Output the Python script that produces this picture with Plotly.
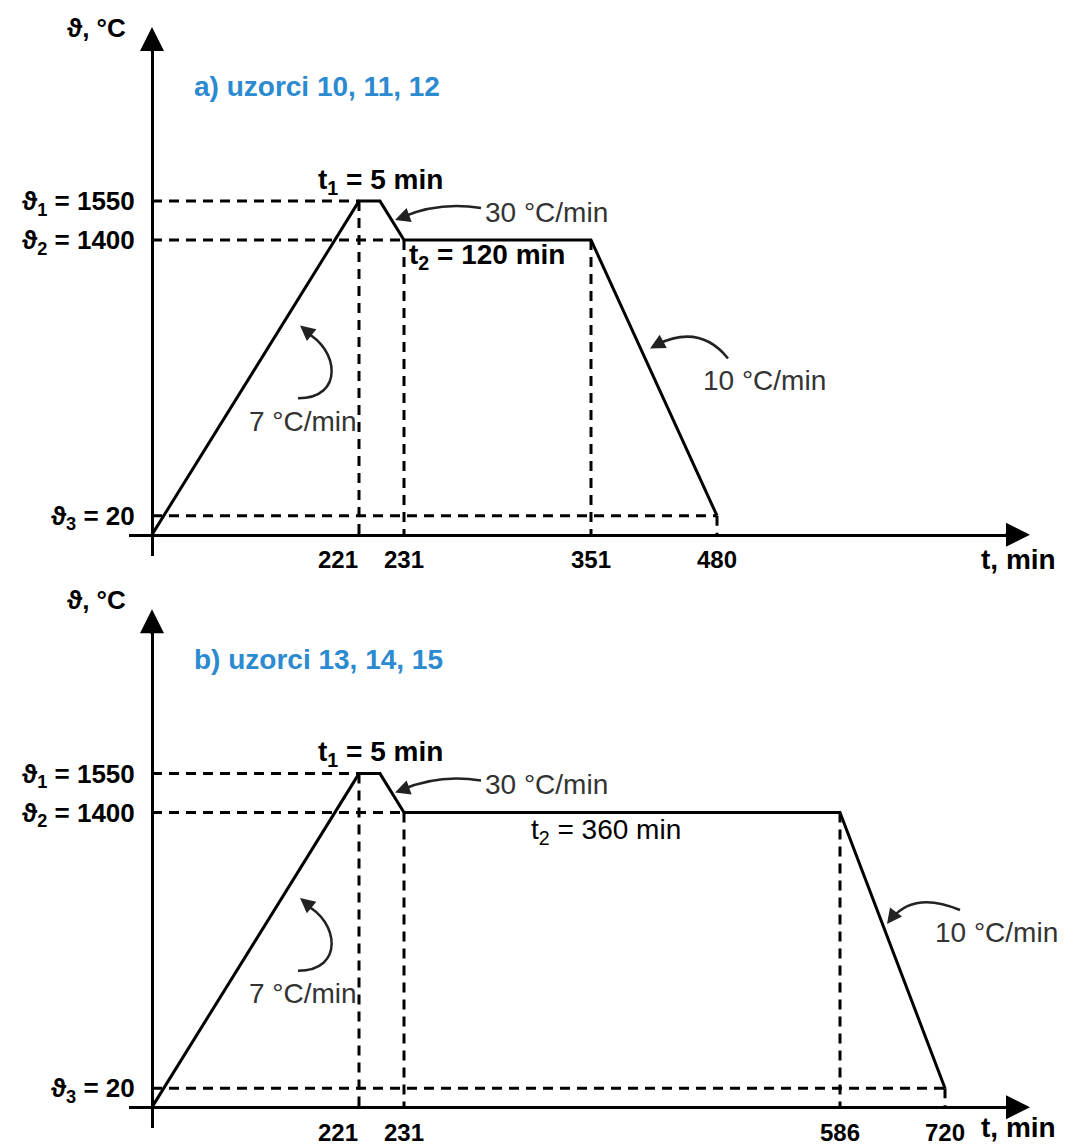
import numpy as np
import plotly.graph_objects as go

# heat treatment schedules (time in min, temperature in °C)
time_a = [0, 221, 226, 231, 351, 480]
time_b = [0, 221, 226, 231, 586, 720]
temp = [0, 1550, 1550, 1400, 1400, 20]

xticks_a = [221, 231, 351, 480]
xticks_b = [221, 231, 586, 720]
yticks = [20, 1400, 1550]
ylabels = ["ϑ<sub>3</sub> = 20", "ϑ<sub>2</sub> = 1400", "ϑ<sub>1</sub> = 1550"]

titles = ["a) uzorci 10, 11, 12", "b) uzorci 13, 14, 15"]
hold_labels = ["<b>t<sub>2</sub> = 120 min</b>", "t<sub>2</sub> = 360 min"]

W, H = 1088, 1146
FONT = "Liberation Sans, Arial, sans-serif"
BLUE = "#2b8ad0"

# the drawing is schematic (not to scale): value -> pixels from origin
XW_A = ([0, 221, 226, 231, 351, 480], [0, 207, 228, 252, 439, 565])
XW_B = ([0, 221, 226, 231, 586, 720], [0, 207, 228, 252, 688, 793])
YW = ([0, 20, 1400, 1550], [0, 19, 296, 335])


def wx(v, xw):
    return np.interp(v, *xw)


def wy(v):
    return np.interp(v, *YW)


def px(x, y):
    return x / W, 1 - y / H


fig = go.Figure()
panels = [
    dict(time=time_a, xw=XW_A, xt=xticks_a, oy=537, top=40, tip=27, n=""),
    dict(time=time_b, xw=XW_B, xt=xticks_b, oy=1112, top=625, tip=612, n="2"),
]

annotations = []
shapes = []
tick_font = dict(family=FONT, size=24, color="black", weight="bold")

for i, p in enumerate(panels):
    t = p["time"]
    xs = wx(t, p["xw"])
    ys = wy(temp)
    xa, ya = "x" + p["n"], "y" + p["n"]
    xa_lab = "x" + str(3 + i)  # overlay axis holding the shifted first tick label

    # guide lines
    gx, gy = [], []
    for tt, T in [(t[1], temp[1]), (t[3], temp[3]), (t[5], temp[5])]:
        gx += [0, wx(tt, p["xw"]), None]
        gy += [wy(T), wy(T), None]
    for tt, T in [(t[1], temp[1]), (t[3], temp[3]), (t[4], temp[4]), (t[5], temp[5])]:
        gx += [wx(tt, p["xw"]), wx(tt, p["xw"]), None]
        gy += [wy(T), 0, None]
    fig.add_trace(go.Scatter(x=gx, y=gy, mode="lines", xaxis=xa, yaxis=ya,
                             line=dict(color="black", width=3, dash="10px,7px"),
                             hoverinfo="skip"))
    fig.add_trace(go.Scatter(x=xs, y=ys, mode="lines", xaxis=xa, yaxis=ya,
                             line=dict(color="black", width=3), hoverinfo="skip"))
    fig.add_trace(go.Scatter(x=xs[1:2], y=ys[1:2], mode="markers", xaxis=xa_lab, yaxis=ya,
                             marker=dict(opacity=0), hoverinfo="skip"))

    oy = p["oy"]
    common_x = dict(domain=[129 / W, 1012 / W], range=[-23, 860], anchor="free",
                    position=1 - oy / H, showgrid=False, zeroline=False, ticks="",
                    tickangle=0, tickfont=tick_font, ticklabelstandoff=3,
                    showline=True, linewidth=3)
    fig.update_layout(**{
        "xaxis" + p["n"]: dict(common_x, linecolor="black",
                               tickvals=wx(p["xt"][1:], p["xw"]),
                               ticktext=[str(v) for v in p["xt"][1:]]),
        "xaxis" + str(3 + i): dict(common_x, overlaying=xa, linecolor="rgba(0,0,0,0)",
                                   tickvals=wx(p["xt"][:1], p["xw"]),
                                   ticktext=[str(v) for v in p["xt"][:1]],
                                   ticklabelshift=-21),
        "yaxis" + p["n"]: dict(domain=[1 - (oy + 21) / H, 1 - p["top"] / H],
                               range=[-21, oy - p["top"]], anchor="free",
                               position=152 / W, showline=True, linewidth=3,
                               linecolor="black", showgrid=False, zeroline=False,
                               ticks="", tickvals=wy(yticks), ticktext=ylabels,
                               tickfont=dict(tick_font, size=26), ticklabelstandoff=11),
    })

    # axis arrows
    x0, y0 = px(1030, oy)
    annotations.append(dict(xref="paper", yref="paper", x=x0, y=y0, ax=-26, ay=0, text="",
                            showarrow=True, arrowhead=2, arrowsize=1.6, arrowwidth=3,
                            arrowcolor="black"))
    x0, y0 = px(152, p["tip"])
    annotations.append(dict(xref="paper", yref="paper", x=x0, y=y0, ax=0, ay=26, text="",
                            showarrow=True, arrowhead=2, arrowsize=1.6, arrowwidth=3,
                            arrowcolor="black"))

    d = oy - 537

    def text(x, y, s, size=28, color="black", bold=True, xanchor="center"):
        xp, yp = px(x, y + d)
        annotations.append(dict(xref="paper", yref="paper", x=xp, y=yp, text=s,
                                showarrow=False, xanchor=xanchor, yanchor="middle",
                                font=dict(family=FONT, size=size, color=color,
                                          weight="bold" if bold else "normal")))

    text(96, 28, "ϑ, °C", size=26)
    text(192, 87, titles[i], color=BLUE, xanchor="left")
    text(380, 182, "t<sub>1</sub> = 5 min")
    text(1018, 562 if i == 0 else 557, "t, min")
    text(483, 213, "30 °C/min", color="#333", bold=False, xanchor="left")
    text(303, 423, "7 °C/min", color="#333", bold=False)
    if i == 0:
        text(407, 258, hold_labels[i], xanchor="left")
        text(764, 382, "10 °C/min", color="#333", bold=False)
    else:
        text(606, 260, hold_labels[i], bold=False)
        text(996, 937 - 575, "10 °C/min", color="#333", bold=False)

    # curved arrows for the rates
    def curve(pts, tip, ax, ay):
        c = [px(a, b + d) for a, b in pts]
        path = "M %f,%f " % c[0]
        if len(c) == 3:
            path += "Q %f,%f %f,%f" % (*c[1], *c[2])
        else:
            path += "C %f,%f %f,%f %f,%f" % (*c[1], *c[2], *c[3])
        shapes.append(dict(type="path", xref="paper", yref="paper", path=path,
                           line=dict(color="#222", width=2.5)))
        xp, yp = px(tip[0], tip[1] + d)
        annotations.append(dict(xref="paper", yref="paper", x=xp, y=yp, ax=ax, ay=ay,
                                text="", showarrow=True, arrowhead=2, arrowsize=1.2,
                                arrowwidth=2.5, arrowcolor="#222"))

    curve([(481, 209), (440, 202), (402, 218)], (395, 221), 14, -5)
    curve([(298, 400), (345, 400), (338, 350), (306, 334)], (300, 327), 11, 9)
    if i == 0:
        curve([(728, 360), (700, 325), (657, 346)], (650, 350), 13, -7)
    else:
        curve([(960, 339), (915, 320), (892, 347)], (887, 353), 9, -12)

fig.update_layout(width=W, height=H, margin=dict(l=0, r=0, t=0, b=0),
                  paper_bgcolor="white", plot_bgcolor="white", showlegend=False,
                  annotations=annotations, shapes=shapes)

# page without body margin so the figure fills the window exactly
fig.write_html("out.html", config={"displayModeBar": False},
               post_script="document.body.style.margin='0';"
               "document.documentElement.style.overflow='hidden';")
